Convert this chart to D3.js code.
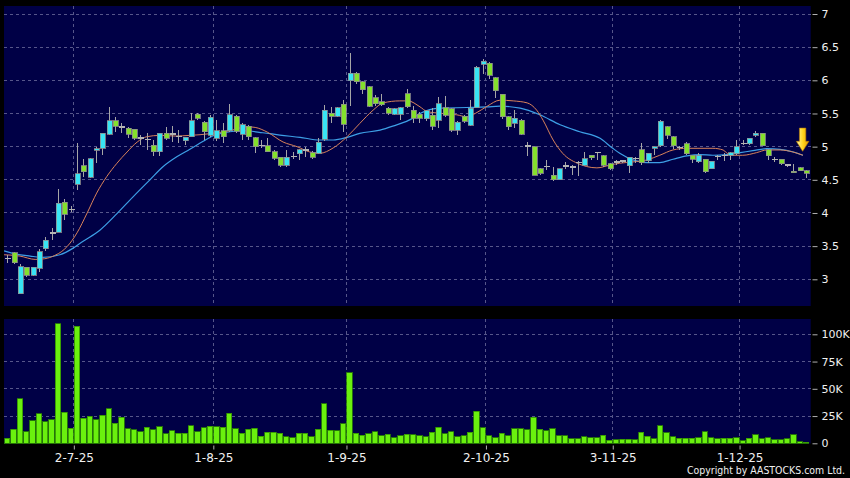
<!DOCTYPE html>
<html>
<head>
<meta charset="utf-8">
<script src="https://cdn.jsdelivr.net/npm/d3@7"></script>
<style>
  body { margin: 0; background: #000; }
  svg { display: block; }
  text { font-family: "DejaVu Sans", Verdana, sans-serif; fill: #f0f0f0; }
</style>
</head>
<body>
<svg id="chart" width="850" height="478"></svg>
<script>
// daily candles, index 0 = 16-6-25 ... index 126 = 15-12-25
const opens = [3.31,3.40,2.78,3.18,3.06,3.165,3.46,3.70,3.71,4.165,
  4.05,4.43,4.71,4.535,4.95,4.975,5.19,5.39,5.30,5.28,
  5.26,5.13,5.11,5.02,4.92,5.20,5.19,5.15,5.09,5.15,
  5.49,5.37,5.175,5.125,5.24,5.24,5.46,5.19,5.31,5.135,
  5.02,5.01,4.925,4.84,4.72,4.85,4.89,4.95,4.91,4.90,
  5.11,5.50,5.46,5.64,5.995,6.105,5.98,5.90,5.74,5.68,
  5.58,5.49,5.49,5.80,5.55,5.49,5.42,5.47,5.40,5.59,
  5.57,5.25,5.46,5.32,5.59,6.24,6.26,6.04,5.79,5.45,
  5.35,5.40,5.01,5.00,4.67,4.70,4.57,4.50,4.71,4.69,
  4.76,4.72,4.87,4.91,4.86,4.74,4.77,4.78,4.71,4.82,
  4.95,4.79,4.98,5.01,5.30,5.15,4.99,5.04,4.87,4.77,
  4.81,4.67,4.85,4.87,4.87,4.89,5.05,5.04,5.17,5.20,
  4.95,4.81,4.81,4.72,4.63,4.68,4.64];
const highs = [3.36,3.41,3.23,3.19,3.19,3.45,3.64,3.78,4.36,4.205,
  4.10,5.05,4.81,4.83,5.00,5.21,5.60,5.44,5.35,5.29,
  5.27,5.17,5.20,5.10,5.21,5.30,5.31,5.25,5.15,5.50,
  5.50,5.38,5.48,5.40,5.35,5.64,5.47,5.35,5.32,5.14,
  5.10,5.13,4.95,4.85,4.95,4.92,4.97,5.00,4.93,5.125,
  5.63,5.60,5.60,5.70,6.41,6.12,5.99,5.91,5.78,5.80,
  5.60,5.59,5.60,5.87,5.61,5.52,5.56,5.58,5.75,5.77,
  5.58,5.38,5.48,5.70,6.21,6.32,6.27,6.05,5.80,5.46,
  5.55,5.41,5.07,5.00,4.68,4.80,4.70,4.67,4.77,4.72,
  4.79,4.92,4.88,4.92,4.87,4.76,4.80,4.80,4.84,4.85,
  5.06,4.91,5.00,5.40,5.31,5.16,5.01,5.075,4.88,4.90,
  4.82,4.79,4.88,4.90,4.92,5.10,5.10,5.13,5.235,5.21,
  4.96,4.84,4.82,4.74,4.74,4.69,4.65];
const lows = [3.24,3.23,2.78,3.04,3.05,3.11,3.43,3.59,3.71,3.89,
  4.02,4.35,4.54,4.53,4.75,4.87,5.18,5.22,5.20,5.13,
  5.10,5.02,4.95,4.86,4.86,5.10,5.07,5.05,5.03,5.14,
  5.40,5.10,5.15,5.08,5.05,5.22,5.20,5.10,5.10,4.90,
  4.98,4.92,4.80,4.70,4.70,4.82,4.80,4.85,4.82,4.89,
  5.08,5.35,5.44,5.225,5.62,5.95,5.80,5.60,5.62,5.62,
  5.47,5.47,5.40,5.59,5.35,5.35,5.38,5.25,5.28,5.45,
  5.22,5.175,5.36,5.31,5.58,6.10,6.015,5.73,5.42,5.25,
  5.28,5.17,4.86,4.57,4.58,4.65,4.48,4.49,4.66,4.58,
  4.56,4.71,4.80,4.80,4.70,4.65,4.73,4.76,4.60,4.76,
  4.73,4.76,4.88,5.00,5.12,4.97,4.95,4.88,4.75,4.76,
  4.60,4.66,4.80,4.78,4.80,4.88,5.02,5.03,5.15,5.01,
  4.80,4.77,4.73,4.69,4.60,4.63,4.52];
const closes = [3.31,3.25,3.19,3.06,3.18,3.415,3.59,3.70,4.145,3.98,
  4.05,4.59,4.62,4.82,4.97,5.20,5.39,5.31,5.30,5.19,
  5.125,5.13,5.11,4.92,5.20,5.125,5.19,5.15,5.14,5.39,
  5.43,5.225,5.44,5.24,5.15,5.48,5.235,5.33,5.15,5.00,
  5.02,4.925,4.825,4.72,4.84,4.85,4.95,4.95,4.84,5.07,
  5.55,5.46,5.59,5.34,6.105,5.98,5.855,5.61,5.65,5.63,
  5.50,5.575,5.59,5.60,5.43,5.43,5.54,5.31,5.65,5.47,
  5.25,5.37,5.38,5.58,6.20,6.29,6.08,5.84,5.45,5.30,
  5.43,5.19,5.01,4.57,4.60,4.70,4.50,4.67,4.71,4.69,
  4.76,4.82,4.83,4.91,4.72,4.67,4.77,4.78,4.84,4.82,
  4.76,4.90,5.00,5.38,5.175,5.01,4.99,4.89,4.81,4.87,
  4.62,4.78,4.85,4.87,4.91,5.00,5.05,5.125,5.20,5.01,
  4.86,4.81,4.74,4.72,4.61,4.64,4.60];
// volume in thousands of shares
const volK = [4.6,13,41,10.8,20.7,26.9,19.8,21.6,109.6,28.4,
  13.9,107.4,22.8,24.7,21.6,25.6,31.8,18.5,23.8,13.3,
  12.3,10.8,14.5,12.3,15.4,8.6,11.7,9.3,9.3,16,
  10.8,14.2,15.7,15.1,14.5,27.5,13.3,9.3,12.7,13.9,
  6.5,10.2,10.2,9.3,5.9,4.9,9,9,5.9,12.7,
  36.1,12,11.4,17.9,64.8,9.3,7.4,8.6,10.8,6.8,
  8.3,4.9,6.8,8.3,8,6.8,6,10.2,14.8,8.6,
  10.5,6.2,6.8,10.2,29.6,14.2,6.8,4.9,9.3,7.1,
  13.3,13.3,12.3,24.1,13,11.7,13.3,6.8,6.8,4,
  4,5.9,4.9,4.9,7.4,2.8,3.1,3.7,3.7,3.1,
  10.2,6.5,4.3,16,9.6,6.2,4.6,4.6,4.6,4.9,
  10.5,5.2,4.3,4.6,4.6,5.2,2.5,4.6,7.7,4.3,
  4.9,3.1,3.1,4.3,8,1.2,0.9];
// moving averages: [candle index, value]
const ma10 = [[-0.5,3.37],[2,3.35],[4.4,3.30],[5.9,3.31],[7.5,3.36],[8.6,3.42],[9.4,3.49],[11,3.70],
  [12.6,4.00],[14.1,4.30],[15.7,4.55],[17.3,4.75],[18.9,4.92],[20.5,5.07],[22,5.15],[24.1,5.17],
  [26.5,5.16],[28.8,5.17],[30.4,5.18],[32.4,5.20],[35.1,5.24],[37.8,5.30],[39.1,5.29],[41,5.22],
  [43.5,5.07],[45.7,5.00],[47.7,4.92],[49.3,4.90],[51.4,4.98],[53.6,5.15],[55.6,5.35],[57.7,5.55],
  [59.3,5.66],[61.9,5.69],[63.2,5.69],[65.1,5.60],[66.2,5.53],[68.7,5.50],[70.9,5.48],[72.5,5.45],
  [73.8,5.50],[75.7,5.61],[77.7,5.70],[79.8,5.69],[82,5.66],[83.5,5.55],[84.5,5.40],[86.1,5.10],
  [87.6,4.90],[89.9,4.75],[91.4,4.70],[93,4.68],[95,4.72],[96.6,4.75],[98.7,4.77],[100.9,4.80],
  [102.9,4.87],[105,4.95],[107.2,4.975],[111.3,4.975],[112.9,4.95],[114,4.87],[116,4.87],
  [118.2,4.91],[119.8,4.95],[121.9,4.95],[123.9,4.92],[125.5,4.87]];
const ma20 = [[-0.5,3.43],[0.9,3.39],[3.6,3.35],[5.6,3.33],[8.3,3.37],[10.4,3.47],[11.9,3.57],
  [14.6,3.74],[17.3,3.99],[19.8,4.24],[22.5,4.50],[24.6,4.70],[26.8,4.85],[28.8,4.96],[30.9,5.08],
  [32.4,5.16],[35.1,5.225],[37.2,5.24],[40.3,5.21],[43,5.175],[46.2,5.14],[49.3,5.10],[51.4,5.10],
  [53.6,5.14],[55.6,5.20],[58.8,5.25],[60.8,5.31],[64,5.43],[65.1,5.50],[68.3,5.58],[72.5,5.59],
  [75.7,5.60],[77.7,5.61],[80.9,5.58],[84,5.48],[87.2,5.33],[90.3,5.225],[93.5,5.125],[95.5,4.975],
  [96.6,4.90],[98.7,4.80],[100.9,4.76],[102.9,4.76],[105,4.81],[107.2,4.86],[109.3,4.88],
  [111.3,4.87],[113.5,4.88],[115.6,4.91],[117.6,4.94],[119.8,4.97],[121.9,4.96],[124,4.92],[125.5,4.87]];

const priceTicks = [3,3.5,4,4.5,5,5.5,6,6.5,7];
const volTicks = [0,25,50,75,100];
const dateTicks = [11,33,54,76,96,116];
const dateLabels = ["2-7-25","1-8-25","1-9-25","2-10-25","3-11-25","1-12-25"];

const svg = d3.select("#chart");
const panelL = 4, panelR = 810.7;
const priceTop = 6, priceBot = 306;
const volTop = 319, volBot = 443.5;

const idx = d3.range(opens.length);
const x = d3.scaleBand().domain(idx).range([4.1, 809.3]);
const xi = d3.scaleLinear().domain([-0.5, opens.length - 0.5]).range([4.1, 809.3]);
const y = d3.scaleLinear().domain([3, 7]).range([279.3, 14]);
const yv = d3.scaleLinear().domain([0, 100]).range([443.3, 334.3]);

// panels
svg.append("rect").attr("x", panelL).attr("y", priceTop).attr("width", panelR - panelL)
  .attr("height", priceBot - priceTop).attr("fill", "#000046");
svg.append("rect").attr("x", panelL).attr("y", volTop).attr("width", panelR - panelL)
  .attr("height", volBot - volTop).attr("fill", "#000046");

svg.append("clipPath").attr("id", "pclip").append("rect")
  .attr("x", panelL).attr("y", priceTop).attr("width", panelR - panelL).attr("height", priceBot - priceTop);

const grid = svg.append("g").attr("stroke", "#56568a").attr("stroke-width", 1)
  .attr("stroke-dasharray", "3,3").attr("shape-rendering", "crispEdges");
grid.selectAll("line.hp").data(priceTicks).join("line").attr("class", "hp")
  .attr("x1", panelL).attr("x2", panelR).attr("y1", d => y(d)).attr("y2", d => y(d));
grid.selectAll("line.hv").data(volTicks.filter(d => d > 0)).join("line").attr("class", "hv")
  .attr("x1", panelL).attr("x2", panelR).attr("y1", d => yv(d)).attr("y2", d => yv(d));
grid.selectAll("line.vp").data(dateTicks).join("line").attr("class", "vp")
  .attr("x1", d => x(d)).attr("x2", d => x(d)).attr("y1", priceTop).attr("y2", priceBot);
grid.selectAll("line.vv").data(dateTicks).join("line").attr("class", "vv")
  .attr("x1", d => x(d)).attr("x2", d => x(d)).attr("y1", volTop).attr("y2", volBot);

// moving averages
const plot = svg.append("g").attr("clip-path", "url(#pclip)");
const line = d3.line().x(d => xi(d[0])).y(d => y(d[1])).curve(d3.curveMonotoneX);
plot.append("path").datum(ma20).attr("d", line).attr("fill", "none")
  .attr("stroke", "#3d9fe6").attr("stroke-width", 1.2);
plot.append("path").datum(ma10).attr("d", line).attr("fill", "none")
  .attr("stroke", "#d9825a").attr("stroke-width", 1);

// candles
const bw = x.bandwidth();
const candles = plot.selectAll("g.candle").data(idx).join("g").attr("class", "candle")
  .attr("shape-rendering", "crispEdges");
candles.append("line")
  .attr("x1", i => Math.round(x(i) + bw / 2) + 0.5).attr("x2", i => Math.round(x(i) + bw / 2) + 0.5)
  .attr("y1", i => y(highs[i])).attr("y2", i => y(lows[i]))
  .attr("stroke", "#a6a6a6").attr("stroke-width", 1);
candles.filter(i => closes[i] !== opens[i]).append("rect")
  .attr("x", i => Math.round(x(i) + bw / 2) - 2)
  .attr("y", i => y(Math.max(opens[i], closes[i])))
  .attr("width", 5)
  .attr("height", i => Math.max(1.5, Math.abs(y(opens[i]) - y(closes[i]))))
  .attr("fill", i => closes[i] > opens[i] ? "#38e4f4" : "#84e02c")
  .attr("stroke", "#8e8e8e").attr("stroke-width", 0.8);
candles.filter(i => closes[i] === opens[i]).append("line")
  .attr("x1", i => Math.round(x(i) + bw / 2) - 2.5).attr("x2", i => Math.round(x(i) + bw / 2) + 3.5)
  .attr("y1", i => y(opens[i])).attr("y2", i => y(opens[i]))
  .attr("stroke", "#b4b4b4").attr("stroke-width", 1.5);

// volume bars
svg.append("g").attr("shape-rendering", "crispEdges")
  .selectAll("rect").data(idx).join("rect")
  .attr("x", i => x(i) + 0.5).attr("width", bw - 1)
  .attr("y", i => yv(volK[i])).attr("height", i => yv(0) - yv(volK[i]))
  .attr("fill", "#6af00e").attr("stroke", "#2e8c00").attr("stroke-width", 0.8);

// right axes
const axP = svg.append("g").attr("transform", "translate(812.5,0)")
  .call(d3.axisRight(y).tickValues(priceTicks).tickSize(5).tickPadding(4).tickFormat(d3.format("")));
const axV = svg.append("g").attr("transform", "translate(812.5,0)")
  .call(d3.axisRight(yv).tickValues(volTicks).tickSize(5).tickPadding(4)
    .tickFormat(d => d === 0 ? "0" : d + "K"));
[axP, axV].forEach(a => {
  a.select(".domain").remove();
  a.selectAll(".tick line").attr("stroke", "#b0b0b0");
  a.selectAll(".tick text").attr("font-size", 11).attr("fill", "#f0f0f0")
    .attr("font-family", "DejaVu Sans, Verdana, sans-serif");
});

// date axis
const axX = svg.append("g").attr("transform", `translate(0,${volBot + 2})`)
  .call(d3.axisBottom(xi).tickValues(dateTicks.map(d => d - 0.5)).tickSize(4).tickPadding(4)
    .tickFormat((d, k) => dateLabels[k]));
axX.select(".domain").remove();
axX.selectAll(".tick line").attr("stroke", "#b0b0b0");
axX.selectAll(".tick text").attr("font-size", 12).attr("fill", "#f0f0f0")
  .attr("font-family", "DejaVu Sans, Verdana, sans-serif");

// marker arrow over the last candle
const defs = svg.append("defs");
const grad = defs.append("linearGradient").attr("id", "arrowGrad").attr("x1", 0).attr("x2", 1);
grad.append("stop").attr("offset", "0%").attr("stop-color", "#fff7a0");
grad.append("stop").attr("offset", "55%").attr("stop-color", "#ffd21a");
grad.append("stop").attr("offset", "100%").attr("stop-color", "#e09a00");
const ax = xi(opens.length - 1) - 3.5;
const aTop = y(5.28), aMid = y(5.08), aTip = y(4.93);
svg.append("path")
  .attr("d", `M${ax - 3.2},${aTop} L${ax + 3.2},${aTop} L${ax + 3.2},${aMid} L${ax + 6.3},${aMid}
    L${ax},${aTip} L${ax - 6.3},${aMid} L${ax - 3.2},${aMid} Z`)
  .attr("fill", "url(#arrowGrad)").attr("stroke", "#b87800").attr("stroke-width", 0.6);

svg.append("text").attr("x", 845).attr("y", 473.5).attr("text-anchor", "end")
  .attr("font-size", 11).attr("textLength", 158).attr("lengthAdjust", "spacingAndGlyphs")
  .text("Copyright by AASTOCKS.com Ltd.");
</script>
</body>
</html>
